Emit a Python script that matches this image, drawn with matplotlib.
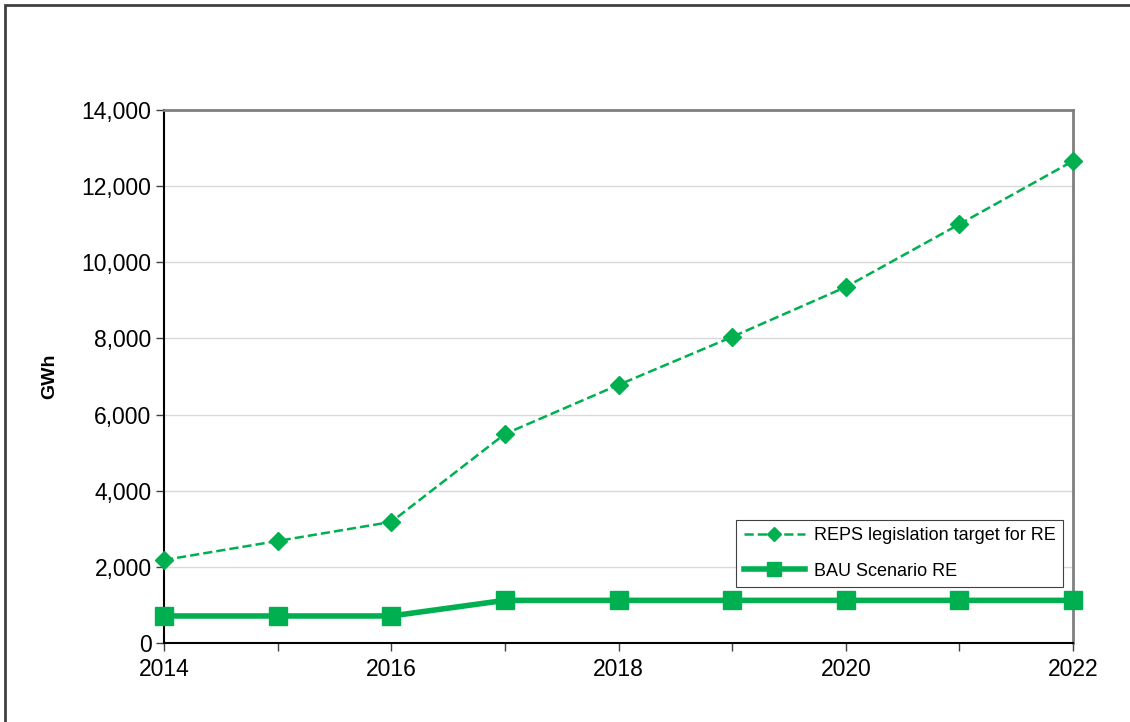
import numpy as np
import matplotlib.pyplot as plt
from matplotlib.patches import Rectangle

years = [2014, 2015, 2016, 2017, 2018, 2019, 2020, 2021, 2022]
reps_target = [2180, 2680, 3180, 5490, 6780, 8040, 9350, 11000, 12660]
bau_re = [710, 710, 710, 1120, 1120, 1120, 1120, 1120, 1120]
yticks = [0, 2000, 4000, 6000, 8000, 10000, 12000, 14000]
xlabels = [2014, 2016, 2018, 2020, 2022]

plt.rcParams['font.family'] = ['Liberation Sans', 'DejaVu Sans']
green = '#00B050'

fig = plt.figure(figsize=(11.3, 7.22), dpi=100)
ax = fig.add_axes([164/1130, 1-643/722, 909/1130, 533/722])

# outer frame (only top/left visible in the original)
fig.patches.append(Rectangle((5/1130, -0.05), 1.2, 1-5/722+0.05, transform=fig.transFigure,
                             fill=False, ec='#404040', lw=2))

ax.plot(years, reps_target, '--', color=green, lw=1.8, marker='D', ms=9,
        clip_on=False, zorder=3, label='REPS legislation target for RE')
ax.plot(years, bau_re, '-', color=green, lw=4, marker='s', ms=13,
        clip_on=False, zorder=3, label='BAU Scenario RE')

ax.set_xlim(2014, 2022)
ax.set_ylim(0, 14000)
ax.set_yticks(yticks)
ax.set_yticklabels([f'{v:,}' for v in yticks])
ax.set_xticks(years, minor=True)
ax.set_xticks(xlabels)
ax.set_xticklabels([str(v) for v in xlabels])
ax.tick_params(axis='both', labelsize=16.5, direction='out', length=6, width=1, color='#404040', pad=3)
ax.tick_params(axis='x', which='minor', direction='out', length=6, width=1, color='#404040')
ax.tick_params(axis='x', pad=5)
ax.grid(axis='y', color='#d9d9d9', lw=1)
ax.set_axisbelow(True)

for s in ['left', 'bottom']:
    ax.spines[s].set_color('black')
    ax.spines[s].set_linewidth(1.5)
for s in ['top', 'right']:
    ax.spines[s].set_color('#808080')
    ax.spines[s].set_linewidth(2)

ax.set_ylabel('GWh', fontsize=14, fontweight='bold')
ax.yaxis.set_label_coords(-0.116, 0.5)

leg = ax.legend(loc='lower right', bbox_to_anchor=(0.989, 0.105), fontsize=13,
                fancybox=False, edgecolor='#404040', framealpha=1, borderaxespad=0,
                handlelength=3.4, handletextpad=0.5, borderpad=0.4,
                labelspacing=1.05, markerscale=0.75)
leg.get_frame().set_linewidth(0.8)

plt.savefig('out.png', dpi=100)
